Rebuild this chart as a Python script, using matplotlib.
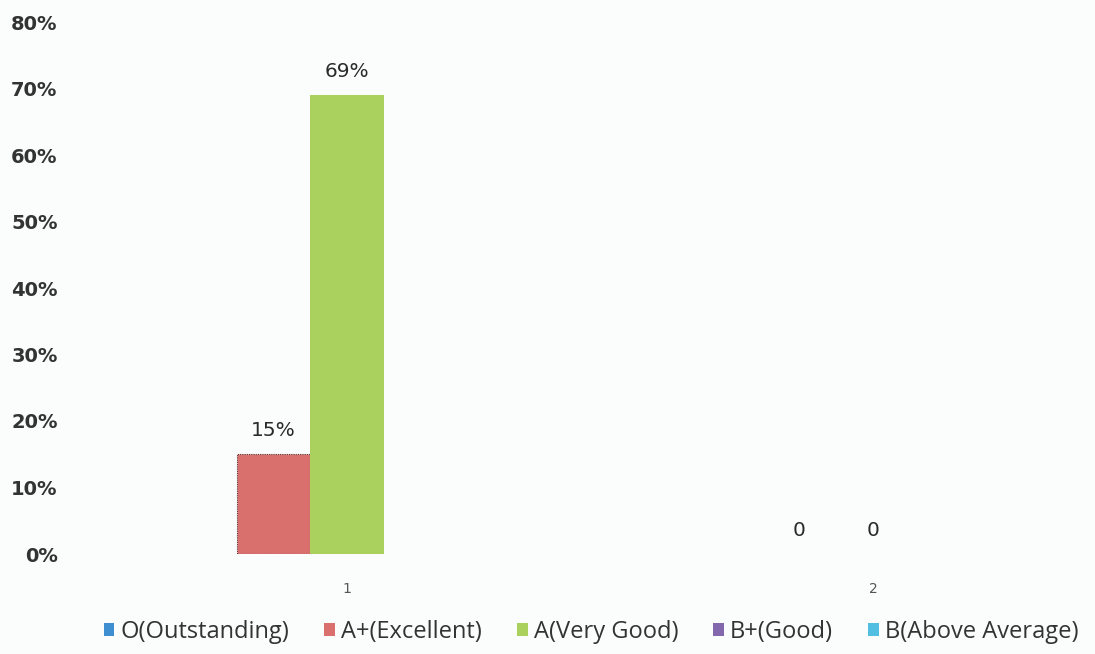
import numpy as np
import matplotlib
matplotlib.use("Agg")
import matplotlib.pyplot as plt
from matplotlib.patches import Patch

categories = ["1", "2"]
series_names = ["O(Outstanding)", "A+(Excellent)", "A(Very Good)", "B+(Good)", "B(Above Average)"]
o_vals = [np.nan, np.nan]
aplus_vals = [0.15, 0.0]
a_vals = [0.69, 0.0]
bplus_vals = [np.nan, np.nan]
b_vals = [np.nan, np.nan]
aplus_labels = ["15%", "0"]
a_labels = ["69%", "0"]
y_ticks = [0, 0.1, 0.2, 0.3, 0.4, 0.5, 0.6, 0.7, 0.8]
y_tick_labels = ["0%", "10%", "20%", "30%", "40%", "50%", "60%", "70%", "80%"]

colors = ["#3D8FD1", "#DA706E", "#AAD15E", "#8468AE", "#52BFE2"]
bg = "#fbfcfc"

plt.rcParams['font.family'] = ['Open Sans', 'DejaVu Sans']

W, H = 1095, 654
fig = plt.figure(figsize=(W / 100, H / 100), dpi=100, facecolor=bg)
left_px, right_px = 84, 1095
bottom_px, top_px = 554, 22
ax = fig.add_axes([left_px / W, (H - bottom_px) / H, (right_px - left_px) / W, (bottom_px - top_px) / H])
ax.set_facecolor(bg)

x = np.arange(1, len(categories) + 1)
bw = 0.14
all_vals = [o_vals, aplus_vals, a_vals, bplus_vals, b_vals]
containers = []
for i, vals in enumerate(all_vals):
    offs = (i - 2) * bw
    if i == 1:
        c = ax.bar(x + offs, vals, width=bw, color=colors[i], edgecolor="#5a3a3a",
                   linewidth=0.8, linestyle=(0, (1, 1)))
        for p in c.patches:
            if p.get_height() == 0:
                p.set_edgecolor("none")
    else:
        c = ax.bar(x + offs, vals, width=bw, color=colors[i], linewidth=0)
    containers.append(c)

lbl_kw = dict(padding=10, fontsize=14.5, color="#2a2a2a", family=["DejaVu Sans"])
ax.bar_label(containers[1], labels=aplus_labels, **lbl_kw)
ax.bar_label(containers[2], labels=a_labels, **lbl_kw)

per_px = 1.0 / 526
xl = 1 - (347 - left_px) * per_px
ax.set_xlim(xl, xl + (right_px - left_px) * per_px)
ax.set_ylim(0, 0.8)
ax.set_xticks(x)
ax.set_xticklabels(categories, fontsize=10, color="#555555", family=["DejaVu Sans"])
ax.set_yticks(y_ticks)
ax.set_yticklabels(y_tick_labels, fontsize=14, fontweight="bold", color="#333333",
                   family=["DejaVu Sans"])
ax.tick_params(axis="both", length=0)
ax.tick_params(axis="x", pad=20)
ax.tick_params(axis="y", pad=19)
for s in ax.spines.values():
    s.set_visible(False)

handles = [Patch(facecolor=colors[i], edgecolor="none") for i in range(5)]
fig.legend(handles, series_names, loc="center", bbox_to_anchor=(591 / W, 1 - 632 / H),
           ncol=5, frameon=False, fontsize=17, handlelength=0.45, handleheight=0.45,
           handletextpad=0.25, columnspacing=1.5, labelcolor="#333333")

fig.savefig("out.png", dpi=100, facecolor=bg)
